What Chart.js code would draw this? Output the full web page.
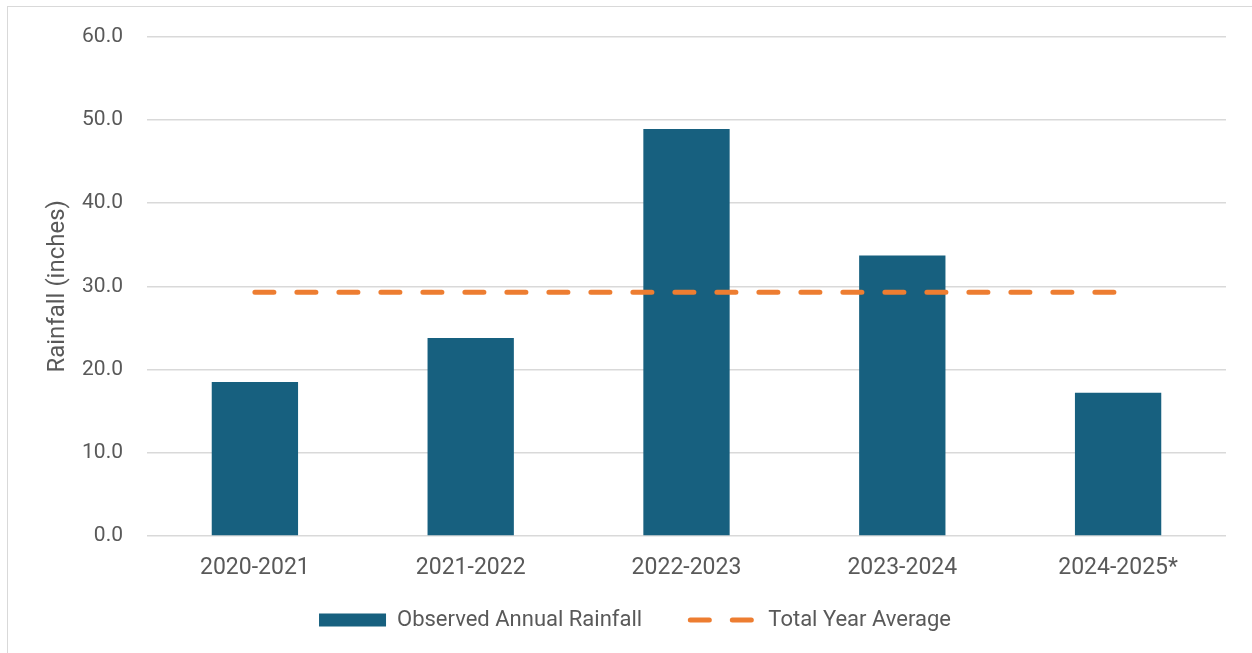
<!DOCTYPE html>
<html>
<head>
<meta charset="utf-8">
<script src="https://cdn.jsdelivr.net/npm/chart.js@4.4.1/dist/chart.umd.min.js"></script>
<style>
  html, body { margin: 0; padding: 0; background: #fff; overflow: hidden; }
  .frame { position: absolute; left: 7px; top: 6px; width: 1260px; height: 660px; border: 1px solid #d9d9d9; }
  .wrap { position: absolute; left: 0; top: 0; width: 1252px; height: 653px; }
</style>
</head>
<body>
<div class="frame"></div>
<div class="wrap"><canvas id="rainChart"></canvas></div>
<script>
const seasons = ['2020-2021', '2021-2022', '2022-2023', '2023-2024', '2024-2025*'];
const observedRainfall = [18.5, 23.8, 48.9, 33.7, 17.2];
const yearAverage = [29.3, 29.3, 29.3, 29.3, 29.3];

const gray = '#595959';
const fam = 'Roboto, "Liberation Sans", sans-serif';
// extra room after the first legend entry, Excel spaces them wider than Chart.js
const legendGap = '\u00a0'.repeat(7);

const ctx = document.getElementById('rainChart').getContext('2d');
new Chart(ctx, {
  data: {
    labels: seasons,
    datasets: [
      {
        type: 'bar',
        label: 'Observed Annual Rainfall',
        data: observedRainfall,
        backgroundColor: '#17607f',
        borderWidth: 0,
        categoryPercentage: 1,
        barPercentage: 0.4,
        order: 2,
      },
      {
        type: 'line',
        label: 'Total Year Average',
        data: yearAverage,
        borderColor: '#ed7d31',
        backgroundColor: '#ed7d31',
        borderWidth: 5,
        borderDash: [19, 23],
        borderCapStyle: 'round',
        pointRadius: 0,
        fill: false,
        order: 1,
      },
    ],
  },
  options: {
    responsive: true,
    maintainAspectRatio: false,
    animation: false,
    layout: { padding: { left: 44, right: 26, top: 23, bottom: 12 } },
    plugins: {
      tooltip: { enabled: false },
      legend: {
        position: 'bottom',
        labels: {
          usePointStyle: true,
          pointStyleWidth: 67,
          boxHeight: 13,
          padding: 10,
          color: gray,
          font: { family: fam, size: 22 },
          generateLabels: (chart) => {
            const items = Chart.defaults.plugins.legend.labels.generateLabels(chart);
            items.sort((a, b) => a.datasetIndex - b.datasetIndex);
            items.forEach((it) => {
              if (it.datasetIndex === 0) {
                it.pointStyle = 'rect';
                it.lineWidth = 0;
                it.text = it.text + legendGap;
              } else {
                it.pointStyle = 'line';
                it.lineCap = 'round';
                it.lineWidth = 5;
                it.lineDash = [19, 23];
              }
            });
            return items;
          },
        },
      },
    },
    scales: {
      x: {
        grid: { display: false },
        border: { display: false },
        ticks: { color: gray, font: { family: fam, size: 23 }, padding: 10 },
        afterFit: (scale) => { scale.height = 63; },
      },
      y: {
        min: 0,
        max: 60,
        ticks: {
          stepSize: 10,
          color: gray,
          font: { family: fam, size: 21 },
          padding: 24,
          callback: (v) => v.toFixed(1),
        },
        grid: { color: '#d9d9d9', lineWidth: 1.5, drawTicks: false },
        border: { display: false },
        title: {
          display: true,
          text: 'Rainfall (inches)',
          color: gray,
          font: { family: fam, size: 24 },
          padding: { top: 0, bottom: 0 },
        },
        afterFit: (scale) => { scale.width = 103; },
      },
    },
  },
});
</script>
</body>
</html>
